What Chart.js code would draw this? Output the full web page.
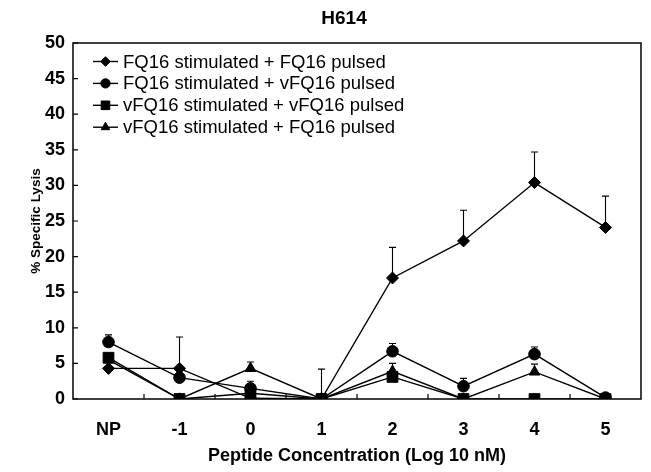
<!DOCTYPE html>
<html><head><meta charset="utf-8">
<script src="https://cdn.jsdelivr.net/npm/chart.js@4.4.1/dist/chart.umd.min.js"></script>
<style>html,body{margin:0;padding:0;background:#fff;}#wrap{width:651px;height:472px;position:relative;}</style>
</head><body><div id="wrap"><canvas id="c"></canvas></div>
<script>
const chartTitle = 'H614';
const xTitle = 'Peptide Concentration (Log 10 nM)';
const yTitle = '% Specific Lysis';
const categories = ['NP', '-1', '0', '1', '2', '3', '4', '5'];
const seriesNames = [
  'FQ16 stimulated + FQ16 pulsed',
  'FQ16 stimulated + vFQ16 pulsed',
  'vFQ16 stimulated + vFQ16 pulsed',
  'vFQ16 stimulated + FQ16 pulsed'
];
const fq16Fq16 = [4.3, 4.3, 0.1, 0, 17.0, 22.2, 30.4, 24.1];
const fq16Fq16Err = [0, 4.4, 0, 4.2, 4.3, 4.3, 4.3, 4.4];
const fq16Vfq16 = [8.0, 3.0, 1.5, 0, 6.7, 1.8, 6.3, 0.2];
const fq16Vfq16Err = [1.0, 0, 1.0, 0, 1.1, 1.1, 1.0, 0.5];
const vfq16Vfq16 = [5.8, 0, 0.8, 0, 3.1, 0, 0, 0];
const vfq16Vfq16Err = [0, 0, 0, 0, 0, 0, 0, 0];
const vfq16Fq16 = [5.5, 0, 4.3, 0, 3.9, 0, 3.8, 0];
const vfq16Fq16Err = [0, 0, 0.9, 0, 1.1, 0, 1.1, 0];
const yTicks = [0, 5, 10, 15, 20, 25, 30, 35, 40, 45, 50];

const FONT = "'Liberation Sans', Arial, Helvetica, sans-serif";
const styles = [
  {pointStyle: 'rectRot', radius: 6},
  {pointStyle: 'circle', radius: 5.8},
  {pointStyle: 'rect', radius: 7.6},
  {pointStyle: 'triangle', radius: 6.2}
];
const values = [fq16Fq16, fq16Vfq16, vfq16Vfq16, vfq16Fq16];
const errors = [fq16Fq16Err, fq16Vfq16Err, vfq16Vfq16Err, vfq16Fq16Err];

const datasets = seriesNames.map((name, i) => ({
  label: name,
  data: values[i],
  errors: errors[i],
  borderColor: '#000',
  backgroundColor: '#000',
  borderWidth: 1.4,
  pointStyle: styles[i].pointStyle,
  pointRadius: styles[i].radius,
  pointBorderWidth: 1,
  pointBackgroundColor: '#000',
  pointBorderColor: '#000',
  tension: 0,
  fill: false
}));

function drawMarker(ctx, style, radius, x, y) {
  if (Chart.helpers && Chart.helpers.drawPoint) {
    Chart.helpers.drawPoint(ctx, {pointStyle: style, radius: radius, rotation: 0, borderWidth: 1}, x, y);
  }
}

const decor = {
  id: 'decor',
  beforeDatasetsDraw(chart) {
    const ctx = chart.ctx;
    const ys = chart.scales.y;
    ctx.save();
    ctx.strokeStyle = '#000';
    ctx.lineWidth = 1.1;
    chart.data.datasets.forEach((ds, di) => {
      const meta = chart.getDatasetMeta(di);
      ds.errors.forEach((e, i) => {
        if (!e) return;
        const x = meta.data[i].x;
        const y0 = ys.getPixelForValue(ds.data[i]);
        const y1 = ys.getPixelForValue(ds.data[i] + e);
        ctx.beginPath();
        ctx.moveTo(x, y0); ctx.lineTo(x, y1);
        ctx.moveTo(x - 3.5, y1); ctx.lineTo(x + 3.5, y1);
        ctx.stroke();
      });
    });
    ctx.restore();
  },
  afterDraw(chart) {
    const ctx = chart.ctx;
    const a = chart.chartArea;
    const ys = chart.scales.y;
    ctx.save();
    ctx.strokeStyle = '#000';
    ctx.lineWidth = 1.5;
    ctx.strokeRect(a.left, a.top, a.right - a.left, a.bottom - a.top);
    ctx.lineWidth = 1.2;
    ctx.beginPath();
    ys.ticks.forEach(t => {
      const y = ys.getPixelForValue(t.value);
      ctx.moveTo(a.left, y); ctx.lineTo(a.left + 5, y);
    });
    const n = categories.length;
    const w = (a.right - a.left) / n;
    for (let i = 1; i < n; i++) {
      const x = a.left + i * w;
      ctx.moveTo(x, a.bottom); ctx.lineTo(x, a.bottom - 5);
    }
    ctx.stroke();
    // legend
    ctx.font = '18.5px ' + FONT;
    ctx.textBaseline = 'middle';
    ctx.fillStyle = '#000';
    seriesNames.forEach((name, i) => {
      const y = a.top + 18.5 + i * 21.9;
      ctx.lineWidth = 1.4;
      ctx.beginPath();
      ctx.moveTo(a.left + 20, y); ctx.lineTo(a.left + 45, y);
      ctx.stroke();
      ctx.lineWidth = 1;
      drawMarker(ctx, styles[i].pointStyle, styles[i].radius * 0.8, a.left + 32.5, y);
      ctx.fillStyle = '#000';
      ctx.fillText(name, a.left + 50, y + 1);
    });
    // title
    ctx.font = 'bold 19px ' + FONT;
    ctx.textAlign = 'center';
    ctx.fillText(chartTitle, (a.left + a.right) / 2 - 13, 19);
    ctx.restore();
  }
};

new Chart(document.getElementById('c'), {
  type: 'line',
  data: {labels: categories, datasets: datasets},
  options: {
    responsive: true,
    maintainAspectRatio: false,
    animation: false,
    events: [],
    layout: {padding: {top: 43, right: 10, left: 0, bottom: 0}},
    plugins: {legend: {display: false}, title: {display: false}, tooltip: {enabled: false}},
    scales: {
      x: {
        type: 'category',
        offset: true,
        grid: {display: false, drawTicks: false},
        border: {display: false},
        ticks: {color: '#000', font: {family: FONT, size: 18, weight: 'bold'}, padding: 20, maxRotation: 0, autoSkip: false},
        title: {display: true, text: xTitle, color: '#000', font: {family: FONT, size: 18, weight: 'bold'}, padding: {top: 0, bottom: 5}},
        afterFit(s) { s.height = 73; }
      },
      y: {
        min: 0, max: 50,
        afterBuildTicks(s) { s.ticks = yTicks.map(v => ({value: v})); },
        grid: {display: false, drawTicks: false},
        border: {display: false},
        ticks: {color: '#000', font: {family: FONT, size: 18, weight: 'bold'}, padding: 8},
        title: {display: true, text: yTitle, color: '#000', font: {family: FONT, size: 13.5, weight: 'bold'}, padding: {top: 28, bottom: 0}},
        afterFit(s) { s.width = 73; }
      }
    }
  },
  plugins: [decor]
});
</script>
</body></html>
